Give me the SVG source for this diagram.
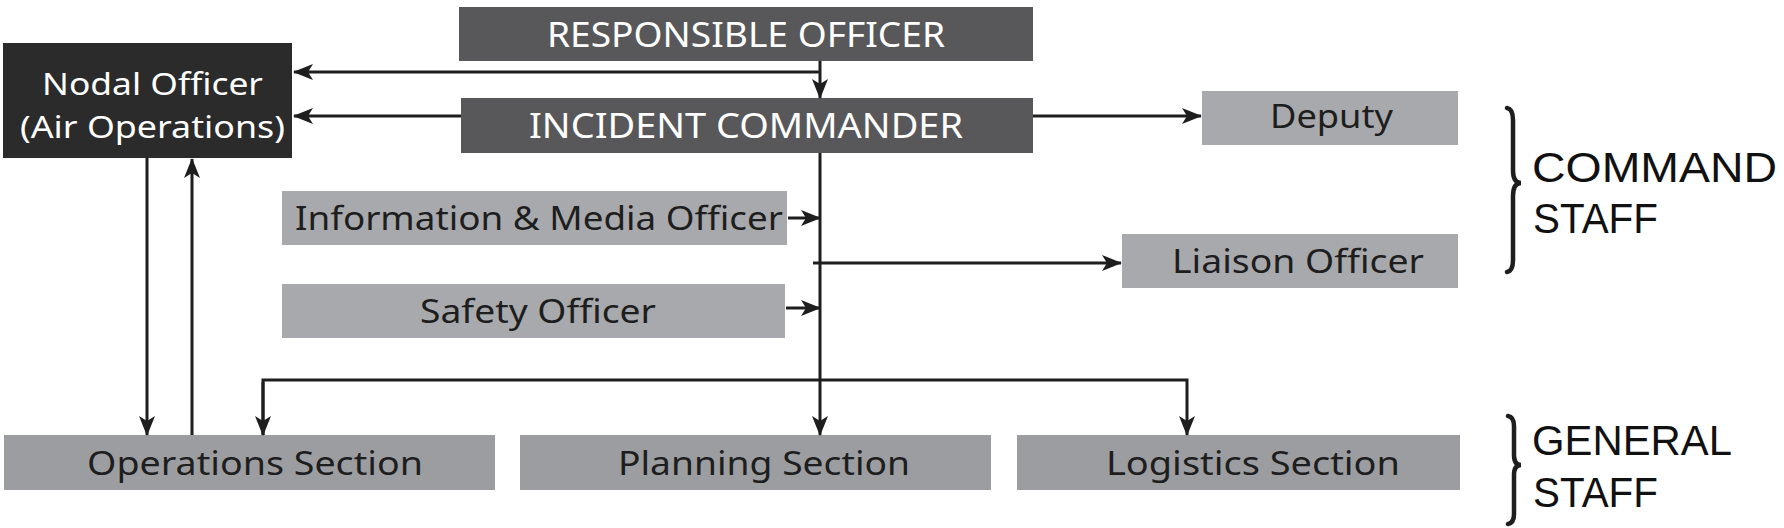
<svg xmlns="http://www.w3.org/2000/svg" width="1784" height="528" viewBox="0 0 1784 528">
<style>
.dark{fill:#58585a}
.black{fill:#2b2b2b}
.light{fill:#a8a9ac}
.sec{fill:#9c9da0}
text{font-family:"Noto Sans","Open Sans","Liberation Sans",sans-serif}
.wt{fill:#ffffff;font-size:35px;text-anchor:middle}
.nt{fill:#ffffff;font-size:31px;text-anchor:middle}
.bt{fill:#1e1e1e;font-size:33px;text-anchor:middle}
.lab{fill:#111111;font-size:42px;font-family:"Liberation Sans",Arial,sans-serif}
.ln{fill:none;stroke:#1e1e1e;stroke-width:3}
.br{fill:none;stroke:#1e1e1e;stroke-width:4.5;stroke-linecap:round}
</style>
<defs>
<marker id="ah" markerUnits="userSpaceOnUse" markerWidth="21" markerHeight="16" refX="19" refY="8" orient="auto">
<path d="M0,0 L20,8 L0,16 L5,8 z" fill="#1e1e1e"/>
</marker>
</defs>
<g id="responsible-officer"><rect class="dark" x="459" y="7" width="574" height="54"/><text class="wt" x="746" y="47" textLength="398" lengthAdjust="spacingAndGlyphs">RESPONSIBLE OFFICER</text></g>
<g id="nodal-officer"><rect class="black" x="3" y="43" width="289" height="115"/><text class="nt" x="152.5" y="95" textLength="221" lengthAdjust="spacingAndGlyphs">Nodal Officer</text><text class="nt" x="152.5" y="138" textLength="265" lengthAdjust="spacingAndGlyphs">(Air Operations)</text></g>
<g id="incident-commander"><rect class="dark" x="461" y="98" width="572" height="55"/><text class="wt" x="746" y="138" textLength="434" lengthAdjust="spacingAndGlyphs">INCIDENT COMMANDER</text></g>
<g id="deputy"><rect class="light" x="1202" y="91" width="256" height="54"/><text class="bt" x="1331.5" y="128" textLength="123" lengthAdjust="spacingAndGlyphs">Deputy</text></g>
<g id="info-media"><rect class="light" x="282" y="191" width="505" height="54"/><text class="bt" x="539" y="230" textLength="488" lengthAdjust="spacingAndGlyphs">Information &amp; Media Officer</text></g>
<g id="liaison"><rect class="light" x="1122" y="234" width="336" height="54"/><text class="bt" x="1298" y="273" textLength="252" lengthAdjust="spacingAndGlyphs">Liaison Officer</text></g>
<g id="safety"><rect class="light" x="282" y="284" width="503" height="54"/><text class="bt" x="538" y="323" textLength="236" lengthAdjust="spacingAndGlyphs">Safety Officer</text></g>
<g id="operations"><rect class="sec" x="4" y="435" width="491" height="55"/><text class="bt" x="255" y="475" textLength="336" lengthAdjust="spacingAndGlyphs">Operations Section</text></g>
<g id="planning"><rect class="sec" x="520" y="435" width="471" height="55"/><text class="bt" x="764" y="475" textLength="292" lengthAdjust="spacingAndGlyphs">Planning Section</text></g>
<g id="logistics"><rect class="sec" x="1017" y="435" width="443" height="55"/><text class="bt" x="1253" y="475" textLength="294" lengthAdjust="spacingAndGlyphs">Logistics Section</text></g>
<g id="command-staff"><path class="br" d="M1507,108 Q1513,109 1513,120 V170 Q1513,183 1521,183 Q1513,183 1513,196 V260 Q1513,271 1507,272"/><text class="lab" x="1532" y="182" textLength="245" lengthAdjust="spacingAndGlyphs">COMMAND</text><text class="lab" x="1533" y="233" textLength="125" lengthAdjust="spacingAndGlyphs">STAFF</text></g>
<g id="general-staff"><path class="br" d="M1508,416 Q1514,417 1514,426 V455 Q1514,465 1521,465 Q1514,465 1514,475 V514 Q1514,523 1508,524"/><text class="lab" x="1532" y="455" textLength="200" lengthAdjust="spacingAndGlyphs">GENERAL</text><text class="lab" x="1533" y="507" textLength="125" lengthAdjust="spacingAndGlyphs">STAFF</text></g>
<g id="connectors">
<path class="ln" d="M820,61 V98" marker-end="url(#ah)"/>
<path class="ln" d="M820,72 H294" marker-end="url(#ah)"/>
<path class="ln" d="M461,116 H294" marker-end="url(#ah)"/>
<path class="ln" d="M1033,116 H1201" marker-end="url(#ah)"/>
<path class="ln" d="M820,153 V435" marker-end="url(#ah)"/>
<path class="ln" d="M788,218 H820" marker-end="url(#ah)"/>
<path class="ln" d="M813,263 H1121" marker-end="url(#ah)"/>
<path class="ln" d="M786,308 H820" marker-end="url(#ah)"/>
<path class="ln" d="M263,435 V380 H1187 V435" marker-end="url(#ah)"/>
<path class="ln" d="M263,382 V435" marker-end="url(#ah)"/>
<path class="ln" d="M147,158 V435" marker-end="url(#ah)"/>
<path class="ln" d="M192,435 V159" marker-end="url(#ah)"/>
</g>
</svg>
